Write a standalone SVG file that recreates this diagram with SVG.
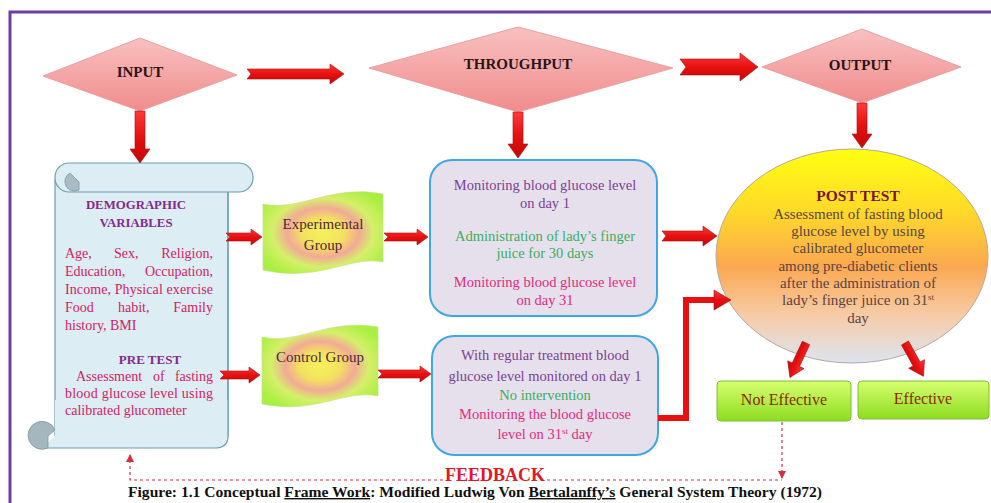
<svg xmlns="http://www.w3.org/2000/svg" width="991" height="503" viewBox="0 0 991 503">
<style>
.serif{font-family:"Liberation Serif","Times New Roman",serif}
.dtxt{font-family:"Liberation Serif",serif;font-weight:bold;font-size:15px;fill:#2a1414;text-anchor:middle}
.arr{fill:url(#gArr);stroke:#a80c0c;stroke-width:0.6}
.scr{font-family:"Liberation Serif",serif;font-size:14px;fill:#d01c66}
.hd{font-family:"Liberation Serif",serif;font-weight:bold;font-size:12.8px;fill:#852a8c;text-anchor:middle}
.bx{fill:#e6e0ec;stroke:#3ea8e0;stroke-width:2}
.bt{font-family:"Liberation Serif",serif;font-size:14.5px;text-anchor:middle}
.pu{fill:#7a4096}.gr{fill:#3aae5c}.pk{fill:#e42a7c}
.gt{font-family:"Liberation Serif",serif;font-size:15px;fill:#4a2a3a;text-anchor:middle}
.et{font-family:"Liberation Serif",serif;font-size:15px;fill:#5a4444;text-anchor:middle}
.res{fill:url(#gGreen);stroke:#7cbf30;stroke-width:1}
.rt{font-family:"Liberation Serif",serif;font-size:16px;fill:#8b2a00;text-anchor:middle}
.fb{fill:none;stroke:#d23040;stroke-width:1.2;stroke-dasharray:3 3}
</style>
<defs>
<linearGradient id="gDia" x1="0" y1="0" x2="0" y2="1">
<stop offset="0" stop-color="#f9c0c0"/><stop offset="1" stop-color="#f08c8c"/>
</linearGradient>
<linearGradient id="gArr" x1="0" y1="0" x2="0" y2="1">
<stop offset="0" stop-color="#ff3a3a"/><stop offset="0.5" stop-color="#e81010"/><stop offset="1" stop-color="#c00808"/>
</linearGradient>
<radialGradient id="gWave" cx="0.5" cy="0.5" r="0.6">
<stop offset="0" stop-color="#f6f25a"/><stop offset="0.3" stop-color="#f3e060"/><stop offset="0.5" stop-color="#f2aa96"/><stop offset="0.7" stop-color="#d6ef6a"/><stop offset="1" stop-color="#a8f040"/>
</radialGradient>
<linearGradient id="gEll" x1="0" y1="0" x2="0" y2="1">
<stop offset="0" stop-color="#ffff10"/><stop offset="0.3" stop-color="#ffd82a"/><stop offset="0.55" stop-color="#fba850"/><stop offset="0.78" stop-color="#f6cca8"/><stop offset="1" stop-color="#dce4f0"/>
</linearGradient>
<linearGradient id="gGreen" x1="0" y1="0" x2="0" y2="1">
<stop offset="0" stop-color="#d6ff70"/><stop offset="1" stop-color="#8edc20"/>
</linearGradient>
<marker id="mh" viewBox="0 0 8 8" refX="7" refY="4" markerWidth="7" markerHeight="7" orient="auto">
<path d="M0,0 L8,4 L0,8 Z" fill="#d23040"/>
</marker>
</defs>

<rect width="991" height="503" fill="#ffffff"/>
<path d="M10,503 L10,12 L991,12" fill="none" stroke="#6a3fa0" stroke-width="3"/>

<g id="input">
<polygon points="43,76 140,38 237,75 140,111" fill="url(#gDia)" stroke="#e8a0a0" stroke-width="1"/>
<text class="dtxt" x="140" y="77">INPUT</text>
</g>
<g id="throughput">
<polygon points="369,68 518,27 673,68 518,112" fill="url(#gDia)" stroke="#e8a0a0" stroke-width="1"/>
<text class="dtxt" x="518" y="69">THROUGHPUT</text>
</g>
<g id="output">
<polygon points="762,67 862,29 961,67 862,103" fill="url(#gDia)" stroke="#e8a0a0" stroke-width="1"/>
<text class="dtxt" x="860" y="70">OUTPUT</text>
</g>

<g id="scroll">
<path d="M55,180 L55,436 L228,436 L228,180 Z" fill="#dcedf3" stroke="#6d9eac" stroke-width="1.2"/>
<path d="M42,448 L215,448 Q228,448 228,436 L228,400 L55,400 L55,436 Z" fill="#dcedf3"/>
<path d="M42,448 L215,448 Q228,448 228,436 L228,190" fill="none" stroke="#6d9eac" stroke-width="1.2"/>
<rect x="55" y="163" width="198" height="29" rx="14" fill="#dcedf3" stroke="#6d9eac" stroke-width="1.2"/>
<path d="M70,173 A9,9 0 1 0 79,190 L79,182 Z" fill="#a9bcc4" stroke="#7f98a2" stroke-width="0.8"/>
<path d="M55,430 A14,14 0 1 0 48,448 L48,436 Z" fill="#a4b6be" stroke="#7f98a2" stroke-width="0.8"/>
<text class="hd" x="136" y="209">DEMOGRAPHIC</text>
<text class="hd" x="136" y="227">VARIABLES</text>
<text class="scr" y="258"><tspan x="65">Age,</tspan><tspan x="114">Sex,</tspan><tspan x="213" text-anchor="end">Religion,</tspan></text>
<text class="scr" y="276"><tspan x="65">Education,</tspan><tspan x="213" text-anchor="end">Occupation,</tspan></text>
<text class="scr" x="65" y="294" textLength="148" lengthAdjust="spacing">Income, Physical exercise</text>
<text class="scr" y="312"><tspan x="65">Food</tspan><tspan x="118">habit,</tspan><tspan x="213" text-anchor="end">Family</tspan></text>
<text class="scr" x="65" y="330">history, BMI</text>
<text class="hd" x="150" y="364" style="font-size:13px">PRE TEST</text>
<text class="scr" y="381"><tspan x="76">Assessment</tspan><tspan x="153">of</tspan><tspan x="213" text-anchor="end">fasting</tspan></text>
<text class="scr" x="65" y="398" textLength="148" lengthAdjust="spacing">blood glucose level using</text>
<text class="scr" x="65" y="415">calibrated glucometer</text>
</g>

<g id="experimental-group">
<path d="M263,204 C300,212 330,184 383,194 L383,262 C350,255 320,283 263,270 Z" fill="url(#gWave)" stroke="#c8d890" stroke-width="0.6"/>
<text class="gt" x="323" y="229">Experimental</text>
<text class="gt" x="323" y="250">Group</text>
</g>
<g id="control-group">
<path d="M262,337 C298,345 328,318 378,327 L378,396 C345,389 315,415 262,404 Z" fill="url(#gWave)" stroke="#c8d890" stroke-width="0.6"/>
<text class="gt" x="320" y="362">Control Group</text>
</g>

<g id="experimental-box">
<rect class="bx" x="430" y="160" width="227" height="156" rx="22"/>
<text class="bt pu" x="545" y="190">Monitoring blood glucose level</text>
<text class="bt pu" x="545" y="208">on day 1</text>
<text class="bt gr" x="545" y="241">Administration of lady’s finger</text>
<text class="bt gr" x="545" y="258">juice for 30 days</text>
<text class="bt pk" x="545" y="287">Monitoring blood glucose level</text>
<text class="bt pk" x="545" y="305">on day 31</text>
</g>
<g id="control-box">
<rect class="bx" x="432" y="336" width="226" height="119" rx="22"/>
<text class="bt pu" x="545" y="360">With regular treatment blood</text>
<text class="bt pu" x="545" y="381">glucose level monitored on day 1</text>
<text class="bt gr" x="545" y="400">No intervention</text>
<text class="bt pk" x="545" y="419">Monitoring the blood glucose</text>
<text class="bt pk" x="545" y="439">level on 31<tspan dy="-5" style="font-size:9px">st</tspan><tspan dy="5"> day</tspan></text>
</g>

<g id="post-test">
<ellipse cx="852" cy="256" rx="136" ry="107" fill="url(#gEll)" stroke="#b8a898" stroke-width="1"/>
<text class="et" x="858" y="201" style="font-weight:bold;font-size:15.5px;fill:#7a1436">POST TEST</text>
<text class="et" x="858" y="219">Assessment of fasting blood</text>
<text class="et" x="858" y="236">glucose level by using</text>
<text class="et" x="858" y="253">calibrated glucometer</text>
<text class="et" x="858" y="271">among pre-diabetic clients</text>
<text class="et" x="858" y="288">after the administration of</text>
<text class="et" x="858" y="305">lady’s finger juice on 31<tspan dy="-5" style="font-size:9px">st</tspan></text>
<text class="et" x="858" y="323">day</text>
</g>

<g id="not-effective">
<rect class="res" x="717" y="381" width="134" height="40" rx="4"/>
<text class="rt" x="784" y="405">Not Effective</text>
</g>
<g id="effective">
<rect class="res" x="858" y="381" width="131" height="38" rx="4"/>
<text class="rt" x="923" y="404">Effective</text>
</g>

<g id="connectors">
<polygon class="arr" points="247,69 330,69 330,64 344,74 330,84 330,79 247,79 251,74"/>
<polygon class="arr" points="680,59 740,59 740,53 758,67 740,81 740,75 680,75 686,67"/>
<polygon class="arr" points="135,111 145,111 145,149 150,149 140,163 130,149 135,149"/>
<polygon class="arr" points="513,112 523,112 523,144 528,144 518,158 508,144 513,144"/>
<polygon class="arr" points="857,103 867,103 867,134 872,134 862,148 852,134 857,134"/>
<polygon class="arr" points="226,233 251,233 251,229 262,237 251,245 251,241 226,241 230,237"/>
<polygon class="arr" points="220,371 249,371 249,367 260,375 249,383 249,379 220,379 224,375"/>
<polygon class="arr" points="384,233 417,233 417,229 428,237 417,245 417,241 384,241 388,237"/>
<polygon class="arr" points="378,370 420,370 420,366 431,374 420,382 420,378 378,378 382,374"/>
<polygon class="arr" points="662,231 703,231 703,226 717,236 703,246 703,241 662,241 666,236"/>
<polyline points="658,418 686,418 686,300 716,300" fill="none" stroke="#e81010" stroke-width="6"/>
<polygon class="arr" points="714,290 731,300 714,310"/>
<polygon class="arr" points="0,-4 24,-4 24,-9 38,0 24,9 24,4 0,4" transform="translate(806,343) rotate(115)"/>
<polygon class="arr" points="0,-4 24,-4 24,-9 38,0 24,9 24,4 0,4" transform="translate(905,343) rotate(61)"/>
<line class="fb" x1="782" y1="422" x2="782" y2="478" marker-end="url(#mh)"/>
<polyline class="fb" points="443,480 130,480 130,455" marker-end="url(#mh)"/>
<line class="fb" x1="547" y1="480" x2="782" y2="480"/>
</g>

<text class="serif" x="495" y="481" text-anchor="middle" textLength="100" lengthAdjust="spacingAndGlyphs" style="font-weight:bold;font-size:18px;fill:#e01828">FEEDBACK</text>
<text class="serif" x="128" y="497" textLength="694" lengthAdjust="spacingAndGlyphs" style="font-weight:bold;font-size:14px;fill:#111">Figure: 1.1 Conceptual <tspan text-decoration="underline">Frame Work</tspan>: Modified Ludwig Von <tspan text-decoration="underline">Bertalanffy’s</tspan> General System Theory (1972)</text>
</svg>
